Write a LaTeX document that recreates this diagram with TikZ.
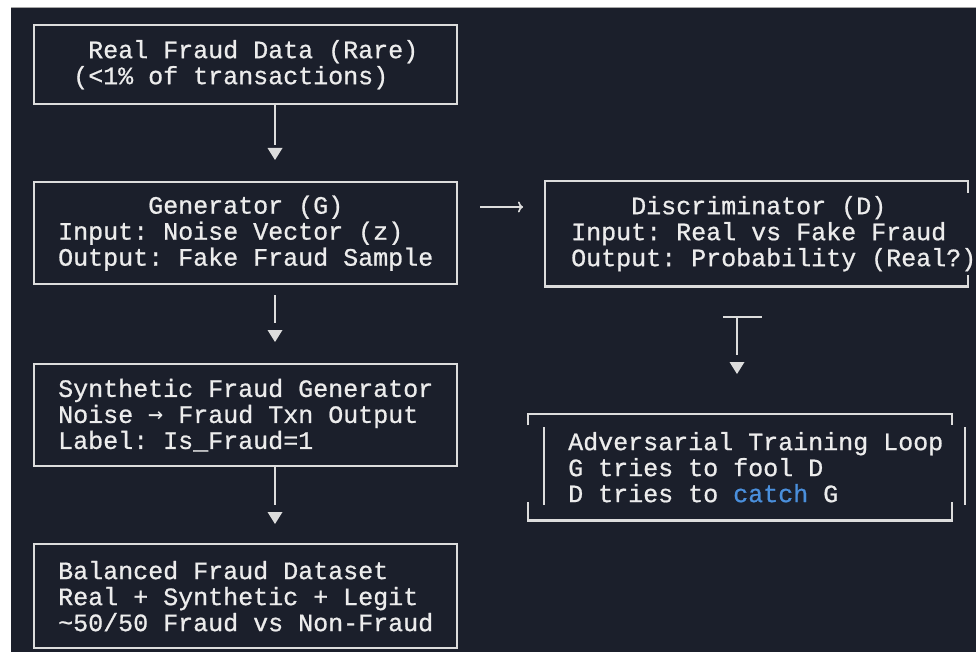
\documentclass[tikz,border=0pt]{standalone}
\usepackage{fontspec}
\setmonofont{Liberation Mono}[FakeBold=0.8]
\newfontfamily\symfont{DejaVu Sans Mono}
\usetikzlibrary{arrows.meta}
\definecolor{bg}{HTML}{1B1F2B}
\definecolor{boxline}{HTML}{DCDCDC}
\definecolor{txt}{HTML}{ECECEC}
\definecolor{catchblue}{HTML}{4A8FDC}
\newlength\chw
\newcommand\pad[1]{\hspace*{#1\chw}}
\newcommand\boxfont{\ttfamily\fontsize{25}{26}\selectfont\settowidth\chw{x}\spaceskip=\chw\xspaceskip=\chw}
\newcommand\tip[1]{\fill[boxline] (#1) ++(-7.5,0) -- ++(15,0) -- ++(-7.5,12) -- cycle;}
\tikzstyle{box} = [draw=boxline, line width=2.4pt, anchor=north west, inner xsep=24pt, inner ysep=0pt, minimum width=423pt, align=left, text=txt, font=\boxfont]
\tikzstyle{flow} = [draw=boxline, line width=2.4pt]

\begin{document}
\begin{tikzpicture}[x=1pt,y=-1pt]
	\useasboundingbox (0,0) rectangle (976,652);
	\fill[white] (0,0) rectangle (976,652);
	\fill[bg] (11,8) rectangle (976,652);
	\draw[gray!70, line width=1pt] (11,8) -- (976,8);

	\node[box, minimum height=79pt] (real) at (33,24) {\pad{2}Real Fraud Data (Rare)\pad{1}\\\pad{1}(<1\% of transactions)};
	\node[box, minimum height=102pt] (gen) at (33,181) {\pad{6}Generator (G)\\Input: Noise Vector (z)\\Output: Fake Fraud Sample};
	\node[box, minimum height=102pt] (synth) at (33,363) {Synthetic Fraud Generator\\Noise {\symfont →} Fraud Txn Output\\Label: Is\_Fraud=1};
	\node[box, minimum height=104pt] (bal) at (33,543) {Balanced Fraud Dataset\\Real + Synthetic + Legit\\\textasciitilde50/50 Fraud vs Non-Fraud};
	\node[box, draw=none, inner xsep=25pt, minimum height=103pt] (disc) at (545,181) {\pad{4}Discriminator (D)\\Input: Real vs Fake Fraud\\Output: Probability (Real?)};
	\node[box, draw=none, inner xsep=39pt, minimum height=104pt] (adv) at (528,414) {Adversarial Training Loop\\G tries to fool D\\D tries to \textcolor{catchblue}{catch} G};

	\draw[flow] ([xshift=423pt]disc.north west) ++(0,12) -- ([xshift=423pt]disc.north west) -- (disc.north west) -- (disc.south west) -- ([xshift=423pt]disc.south west) -- ++(0,-11);
	\draw[flow] (adv.north west) ++(0,11) -- (adv.north west) -- ([xshift=424pt]adv.north west) -- ++(0,11);
	\draw[flow] (adv.south west) ++(0,-18) -- (adv.south west) -- ([xshift=424pt]adv.south west) -- ++(0,-18);
	\draw[flow] ([xshift=16pt]adv.north west) ++(0,13) -- ++(0,78);
	\draw[flow] ([xshift=437pt]adv.north west) ++(0,13) -- ++(0,78);

	\coordinate (r1) at (275,145);
	\coordinate (g1) at (275,323);
	\coordinate (s1) at (275,505);
	\draw[flow] (real.south -| r1) -- (r1);
	\tip{275,148}
	\draw[flow] (gen.south -| g1) ++(0,10) -- (g1);
	\tip{275,330}
	\draw[flow] (synth.south -| s1) -- (s1);
	\tip{275,512}

	\coordinate (l0) at (480,207);
	\coordinate (l1) at (523,207);
	\draw[draw=boxline, line width=1.6pt, -{To[length=5pt,width=11pt]}] (l0) -- (l1);

	\coordinate (t0) at (737,317);
	\coordinate (t1) at (737,355);
	\draw[flow, line width=1.8pt] (723,317) -- (762,317);
	\draw[flow] (t0) -- (t1);
	\tip{737,362}
\end{tikzpicture}
\end{document}
